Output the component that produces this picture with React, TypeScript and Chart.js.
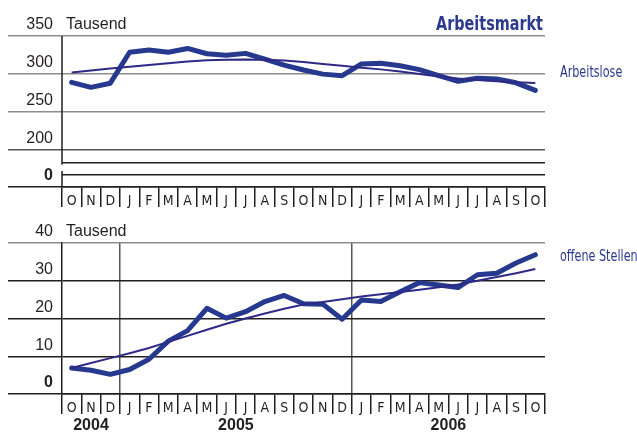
import React, { useEffect, useRef } from 'react';
import { Chart, registerables } from 'chart.js';
Chart.register(...registerables);

const months = ['O','N','D','J','F','M','A','M','J','J','A','S','O','N','D','J','F','M','A','M','J','J','A','S','O'];
const years = ['2004', '2005', '2006'];
const yearStartIndex = [0, 3, 15];
const yearEndIndex = [2, 14, 24];

const arbeitslose = [288.6, 282, 287.5, 328.5, 331.5, 328.5, 333.5, 326.5, 324.5, 327, 319.5, 311.5, 305, 299.5, 297.5, 313, 314, 310.5, 305.5, 297.5, 290, 294, 293, 288, 278];
const arbeitsloseTrend = [301.7, 304.3, 306.8, 309.2, 311.5, 313.8, 316.2, 317.8, 318.6, 319, 318.7, 317.6, 315.5, 313, 310.5, 308, 305.8, 303, 299.8, 296.5, 293.8, 291.8, 290, 288.8, 287.7];
const offeneStellen = [6.9, 6.3, 5.2, 6.5, 9.2, 14.0, 16.8, 22.7, 20.1, 21.8, 24.5, 26.1, 23.9, 23.8, 19.8, 24.9, 24.5, 27.1, 29.5, 28.9, 28.2, 31.6, 32.0, 34.7, 36.9];
const offeneStellenTrend = [6.9, 8.2, 9.5, 10.8, 12.2, 13.8, 15.4, 17.0, 18.6, 20.0, 21.3, 22.6, 23.7, 24.4, 25.1, 25.8, 26.4, 27.0, 27.6, 28.3, 29.0, 30.0, 31.0, 32.0, 33.1];

const topTicks = [150, 166, 182, 200, 250, 300, 350];
const topTickLabels = ['0', '', '', '200', '250', '300', '350'];
const bottomTicks = [0, 10, 20, 30, 40];
const bottomTickLabels = ['0', '10', '20', '30', '40'];

const LINE = '#26398f';
const TREND = '#2e2a86';
const TEXT = '#231f20';
const BLUE_TEXT = '#2b3a8f';
const GREY = '#8c8c8c';
const NARROW = "'Liberation Sans Narrow', 'DejaVu Sans Condensed', sans-serif";
const SANS = "'Liberation Sans', Arial, sans-serif";
const TRANSPARENT = 'rgba(0,0,0,0)';

function datasets(main: number[], trend: number[]) {
  return [
    { data: trend, borderColor: TREND, borderWidth: 2, pointRadius: 0, tension: 0, order: 1 },
    { data: main, borderColor: LINE, borderWidth: 5, pointRadius: 0, tension: 0, borderJoinStyle: 'round', borderCapStyle: 'round', order: 2 },
  ];
}

function xScale(height: number, yearGrid: boolean) {
  return {
    type: 'category',
    offset: true,
    grid: {
      offset: true,
      drawOnChartArea: yearGrid,
      tickLength: 20,
      lineWidth: 1.5,
      color: (c: any) => (yearGrid && (c.index === 3 || c.index === 15) ? '#555' : TRANSPARENT),
      tickColor: TEXT,
    },
    border: { display: true, color: TEXT, width: 1.5 },
    ticks: { padding: -14, autoSkip: false, maxRotation: 0, color: TEXT, font: { family: NARROW, size: 14 } },
    afterFit: (s: any) => { s.height = height; },
  };
}

function condensedText(ctx: any, text: string, x: number, y: number, font: string, align: 'left' | 'right', squeeze: number) {
  ctx.save();
  ctx.font = font;
  ctx.textBaseline = align === 'right' ? 'alphabetic' : 'middle';
  ctx.textAlign = 'left';
  const w = ctx.measureText(text).width * squeeze;
  const startX = align === 'right' ? x - w : x;
  ctx.translate(startX, y);
  ctx.scale(squeeze, 1);
  ctx.fillText(text, 0, 0);
  ctx.restore();
}

function tausendPlugin(id: string) {
  return {
    id,
    afterDraw(chart: any) {
      const { ctx, chartArea, scales } = chart;
      const y = scales.y;
      ctx.save();
      ctx.fillStyle = TEXT;
      ctx.font = `16px ${SANS}`;
      ctx.textAlign = 'left';
      ctx.textBaseline = 'middle';
      ctx.fillText('Tausend', chartArea.left + 4, y.getPixelForValue(y.max) - 11);
      ctx.restore();
    },
  };
}

function TopChart() {
  const ref = useRef<HTMLCanvasElement>(null);
  useEffect(() => {
    const chart = new Chart(ref.current as HTMLCanvasElement, {
      type: 'line',
      data: { labels: months, datasets: datasets(arbeitslose, arbeitsloseTrend) as any },
      options: {
        responsive: false,
        animation: false,
        devicePixelRatio: 1,
        layout: { padding: { left: 8, right: 92, top: 36, bottom: 0 } },
        plugins: { legend: { display: false }, tooltip: { enabled: false } },
        scales: {
          x: xScale(23, false) as any,
          y: {
            min: 150,
            max: 350,
            afterBuildTicks: (s: any) => { s.ticks = topTicks.map((v) => ({ value: v })); },
            grid: {
              tickLength: 54,
              lineWidth: 1.5,
              color: (c: any) => {
                const v = c.tick?.value;
                if (v >= 250) return GREY;
                if (v === 200) return '#555';
                return TEXT;
              },
              tickColor: (c: any) => {
                const v = c.tick?.value;
                if (v === 166 || v === 182) return TRANSPARENT;
                if (v >= 250) return GREY;
                if (v === 200) return '#555';
                return TEXT;
              },
            },
            border: { display: false },
            ticks: {
              padding: -45,
              labelOffset: -11,
              color: TEXT,
              callback: (_v: any, i: number) => topTickLabels[i],
              font: (c: any) => ({ family: SANS, size: 16, weight: c.tick?.value === 150 ? 'bold' : 'normal' }),
            },
            afterFit: (s: any) => { s.width = 54; },
          } as any,
        },
      },
      plugins: [
        tausendPlugin('tausendTop'),
        {
          id: 'topDecor',
          afterDraw(chart: any) {
            const { ctx, chartArea, scales } = chart;
            const y = scales.y;
            const x0 = chartArea.left;
            ctx.save();
            ctx.strokeStyle = TEXT;
            ctx.lineWidth = 1.5;
            ctx.beginPath();
            ctx.moveTo(x0, chartArea.top);
            ctx.lineTo(x0, y.getPixelForValue(182) + 2);
            ctx.moveTo(x0, y.getPixelForValue(166) - 4);
            ctx.lineTo(x0, chartArea.bottom);
            ctx.stroke();
            ctx.fillStyle = BLUE_TEXT;
            condensedText(ctx, 'Arbeitsmarkt', chartArea.right - 2, chartArea.top - 6, `bold 20px ${NARROW}`, 'right', 0.8);
            condensedText(ctx, 'Arbeitslose', chartArea.right + 15, y.getPixelForValue(300) - 1, `15px ${NARROW}`, 'left', 0.83);
            ctx.restore();
          },
        },
      ],
    });
    return () => chart.destroy();
  }, []);
  return <canvas ref={ref} width={637} height={210} style={{ position: 'absolute', left: 0, top: 0, display: 'block' }} />;
}

function BottomChart() {
  const ref = useRef<HTMLCanvasElement>(null);
  useEffect(() => {
    const chart = new Chart(ref.current as HTMLCanvasElement, {
      type: 'line',
      data: { labels: months, datasets: datasets(offeneStellen, offeneStellenTrend) as any },
      options: {
        responsive: false,
        animation: false,
        devicePixelRatio: 1,
        layout: { padding: { left: 8, right: 92, top: 33, bottom: 0 } },
        plugins: { legend: { display: false }, tooltip: { enabled: false } },
        scales: {
          x: xScale(38, true) as any,
          y: {
            min: 0,
            max: 40,
            afterBuildTicks: (s: any) => { s.ticks = bottomTicks.map((v) => ({ value: v })); },
            grid: {
              tickLength: 54,
              lineWidth: 1.5,
              color: (c: any) => (c.tick?.value === 40 ? GREY : TEXT),
              tickColor: (c: any) => (c.tick?.value === 40 ? GREY : TEXT),
            },
            border: { display: true, color: TEXT, width: 1.5 },
            ticks: {
              padding: -45,
              labelOffset: -11,
              color: TEXT,
              callback: (_v: any, i: number) => bottomTickLabels[i],
              font: (c: any) => ({ family: SANS, size: 16, weight: c.tick?.value === 0 ? 'bold' : 'normal' }),
            },
            afterFit: (s: any) => { s.width = 54; },
          } as any,
        },
      },
      plugins: [
        tausendPlugin('tausendBottom'),
        {
          id: 'bottomDecor',
          afterDraw(chart: any) {
            const { ctx, chartArea, scales } = chart;
            const x = scales.x;
            ctx.save();
            ctx.fillStyle = TEXT;
            ctx.font = `bold 16px ${SANS}`;
            ctx.textAlign = 'center';
            ctx.textBaseline = 'middle';
            years.forEach((yr, i) => {
              const px = (x.getPixelForValue(yearStartIndex[i]) + x.getPixelForValue(yearEndIndex[i])) / 2;
              ctx.fillText(yr, px, chartArea.bottom + 32);
            });
            ctx.fillStyle = BLUE_TEXT;
            condensedText(ctx, 'offene Stellen', chartArea.right + 15, chartArea.top + 14, `15px ${NARROW}`, 'left', 0.83);
            ctx.restore();
          },
        },
      ],
    });
    return () => chart.destroy();
  }, []);
  return <canvas ref={ref} width={637} height={222} style={{ position: 'absolute', left: 0, top: 210, display: 'block' }} />;
}

export default function App() {
  return (
    <div style={{ position: 'absolute', left: 0, top: 0, width: 637, height: 432, background: '#fff' }}>
      <TopChart />
      <BottomChart />
    </div>
  );
}
